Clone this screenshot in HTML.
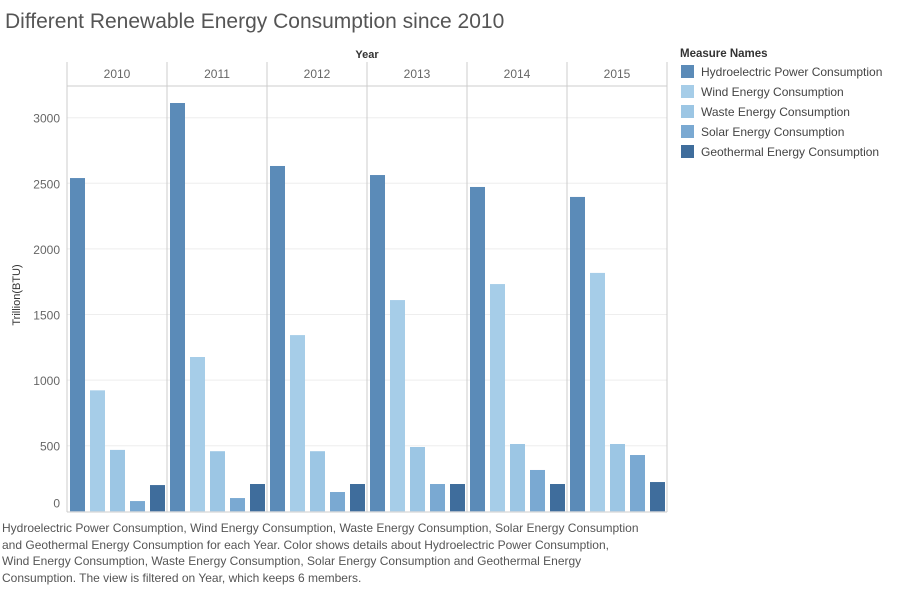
<!DOCTYPE html>
<html><head><meta charset="utf-8"><style>
body{margin:0;background:#fff;font-family:"Liberation Sans",sans-serif;}
svg text{font-family:"Liberation Sans",sans-serif;}
</style></head><body>
<svg id="c" width="897" height="589">
<text x="5" y="28" font-size="21" fill="#555">Different Renewable Energy Consumption since 2010</text>
<text x="367" y="58" font-size="11" font-weight="bold" fill="#333" text-anchor="middle">Year</text>
<text transform="translate(20,295) rotate(-90)" font-size="11" fill="#333" text-anchor="middle">Trillion(BTU)</text>
<g id="g"></g>
<text x="680" y="57" font-size="11.5" font-weight="bold" fill="#333">Measure Names</text>
<g id="leg"></g>
<text font-size="12" fill="#555">
<tspan x="2" y="532">Hydroelectric Power Consumption, Wind Energy Consumption, Waste Energy Consumption, Solar Energy Consumption</tspan>
<tspan x="2" y="549">and Geothermal Energy Consumption for each Year.  Color shows details about Hydroelectric Power Consumption,</tspan>
<tspan x="2" y="565">Wind Energy Consumption, Waste Energy Consumption, Solar Energy Consumption and Geothermal Energy</tspan>
<tspan x="2" y="582">Consumption. The view is filtered on Year, which keeps 6 members.</tspan>
</text>
</svg>
<script>
const years=["2010","2011","2012","2013","2014","2015"];
const measures=["Hydroelectric Power Consumption","Wind Energy Consumption","Waste Energy Consumption","Solar Energy Consumption","Geothermal Energy Consumption"];
const hydro=[2540,3112,2632,2563,2472,2396];
const wind=[922,1176,1343,1610,1732,1817];
const waste=[468,458,458,490,513,513];
const solar=[78,101,147,208,315,429];
const geo=[200,208,208,208,208,223];
const yTicks=[0,500,1000,1500,2000,2500,3000];
const colors=["#5b8bb8","#a6cde8","#9cc6e4","#7aa9d2","#3f6d9c"];
const series=[hydro,wind,waste,solar,geo];
const NS="http://www.w3.org/2000/svg";
const g=document.getElementById('g');
const x0=67,pw=100,yb=511.3,k=0.1312;
const y=v=>yb-v*k;
function mk(t,a,p){const e=document.createElementNS(NS,t);for(const n in a)e.setAttribute(n,a[n]);(p||g).appendChild(e);return e;}
yTicks.forEach(t=>{
  if(t>0){const l=mk('line',{x1:x0,x2:x0+pw*years.length,y1:y(t),y2:y(t),stroke:'#eee'});
  
  }
  const tx=mk('text',{x:60,y:t===0?y(t)-4:y(t)+5,'font-size':12,fill:'#666','text-anchor':'end'});
  tx.textContent=t;
  
  
});
years.forEach((yr,i)=>{
  const px=x0+i*pw;
  const l=mk('line',{x1:px,x2:px,y1:62,y2:512,stroke:'#ccc'});
  
  
  const t=mk('text',{x:px+pw/2,y:78,'font-size':12,fill:'#666','text-anchor':'middle'});
  t.textContent=yr;
  
  
  series.forEach((s,j)=>{
    const r=mk('rect',{x:px+3+j*20,y:y(s[i]),width:15,height:yb-y(s[i]),fill:colors[j]});
    
    
  });
});
const hl=mk('line',{x1:x0,x2:x0+pw*6,y1:86,y2:86,stroke:'#ccc'});


const rl=mk('line',{x1:x0+pw*6,x2:x0+pw*6,y1:62,y2:512,stroke:'#ccc'});


const bl=mk('line',{x1:x0,x2:x0+pw*6,y1:512,y2:512,stroke:'#ccc'});


const leg=document.getElementById('leg');
measures.forEach((m,j)=>{
  const r=mk('rect',{x:681,y:65+j*20,width:13,height:13,fill:colors[j]},leg);
  
  
  const t=mk('text',{x:701,y:76+j*20,'font-size':12,fill:'#444'},leg);
  t.textContent=m;
  
  
});
</script>
</body></html>
